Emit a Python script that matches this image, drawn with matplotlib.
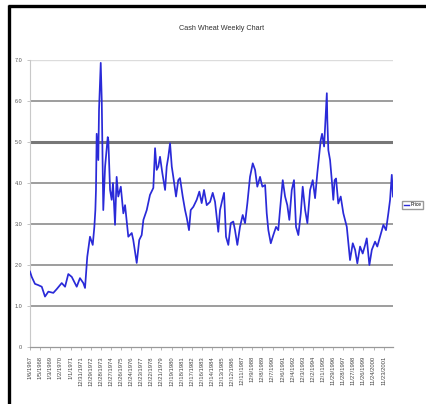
import datetime as dt
import matplotlib
matplotlib.use("Agg")
import matplotlib.pyplot as plt
from matplotlib.lines import Line2D

plt.rcParams['font.family'] = ['Liberation Sans', 'DejaVu Sans']

# weekly cash wheat price, sampled at the turning points (decimal year, $/bu)
years = [
    1967.00, 1967.17, 1967.49, 1967.81, 1968.16, 1968.48, 1968.81, 1969.30, 1969.63, 1970.13,
    1970.46, 1970.78, 1971.12, 1971.61, 1971.93, 1972.26, 1972.43, 1972.65, 1972.92, 1973.19,
    1973.35, 1973.45, 1973.51, 1973.58, 1973.74, 1973.81, 1973.98, 1974.08, 1974.16, 1974.23,
    1974.41, 1974.67, 1974.73, 1974.90, 1975.06, 1975.19, 1975.39, 1975.55, 1975.71, 1975.96,
    1976.21, 1976.38, 1976.70, 1977.04, 1977.19, 1977.53, 1977.78, 1978.02, 1978.19, 1978.52,
    1978.84, 1979.17, 1979.34, 1979.50, 1979.66, 1979.83, 1980.06, 1980.33, 1980.49, 1980.65,
    1980.82, 1980.99, 1981.14, 1981.41, 1981.63, 1981.80, 1982.07, 1982.30, 1982.47, 1982.69,
    1982.86, 1983.12, 1983.45, 1983.71, 1983.94, 1984.17, 1984.44, 1984.77, 1985.03, 1985.26,
    1985.42, 1985.58, 1985.75, 1985.98, 1986.15, 1986.34, 1986.57, 1986.81, 1987.06, 1987.23,
    1987.46, 1987.72, 1987.99, 1988.22, 1988.45, 1988.71, 1988.98, 1989.21, 1989.43, 1989.70,
    1989.93, 1990.20, 1990.36, 1990.52, 1990.76, 1991.01, 1991.28, 1991.50, 1991.67, 1991.94,
    1992.17, 1992.39, 1992.59, 1992.83, 1993.05, 1993.25, 1993.48, 1993.72, 1993.91, 1994.15,
    1994.37, 1994.64, 1994.90, 1995.13, 1995.35, 1995.55, 1995.69, 1995.82, 1996.02, 1996.16,
    1996.29, 1996.34, 1996.44, 1996.61, 1996.78, 1996.93, 1997.06, 1997.20, 1997.42, 1997.66,
    1997.92, 1998.26, 1998.42, 1998.58, 1998.85, 1999.08, 1999.30, 1999.57, 1999.83, 2000.07,
    2000.23, 2000.49, 2000.73, 2001.05, 2001.27, 2001.54, 2001.87, 2002.13, 2002.36, 2002.53,
    2002.70, 2002.82,
]
prices = [
    1.84, 1.71, 1.54, 1.51, 1.47, 1.23, 1.35, 1.32, 1.41, 1.56,
    1.47, 1.78, 1.71, 1.47, 1.68, 1.56, 1.44, 2.20, 2.69, 2.49,
    2.93, 3.34, 3.83, 5.20, 4.56, 5.78, 6.93, 6.02, 4.63, 3.34,
    4.40, 5.12, 5.05, 3.83, 3.59, 4.00, 2.98, 4.15, 3.67, 3.91,
    3.26, 3.46, 2.69, 2.78, 2.61, 2.05, 2.61, 2.73, 3.10, 3.34,
    3.71, 3.88, 4.85, 4.32, 4.40, 4.64, 4.24, 3.83, 4.40, 4.64,
    4.97, 4.40, 4.15, 3.67, 4.07, 4.12, 3.67, 3.34, 3.15, 2.85,
    3.34, 3.42, 3.59, 3.79, 3.51, 3.83, 3.46, 3.54, 3.76, 3.54,
    3.18, 2.81, 3.34, 3.59, 3.76, 2.69, 2.49, 3.02, 3.06, 2.85,
    2.49, 2.93, 3.22, 3.02, 3.51, 4.15, 4.48, 4.32, 3.91, 4.15,
    3.91, 3.95, 3.26, 2.85, 2.53, 2.73, 2.93, 2.85, 3.34, 4.07,
    3.67, 3.46, 3.10, 3.83, 4.07, 2.93, 2.73, 3.26, 3.91, 3.34,
    3.02, 3.83, 4.07, 3.63, 4.24, 4.72, 5.05, 5.20, 4.89, 5.54,
    6.19, 5.54, 4.80, 4.56, 4.07, 3.59, 4.07, 4.11, 3.50, 3.67,
    3.26, 2.93, 2.53, 2.12, 2.53, 2.37, 2.04, 2.45, 2.28, 2.49,
    2.65, 2.00, 2.37, 2.57, 2.45, 2.69, 2.98, 2.85, 3.26, 3.59,
    4.20, 3.67,
]

# category labels: one every 52 weeks from the first Friday of 1967
first_week = dt.date(1967, 1, 6)
n_labels = 36
label_dates = [first_week + dt.timedelta(weeks=52 * k) for k in range(n_labels)]
label_pos = [d.year + (d.timetuple().tm_yday - 1) / 365.25 for d in label_dates]
label_text = [f"{d.month}/{d.day}/{d.year}" for d in label_dates]

y_ticks = [0, 1, 2, 3, 4, 5, 6, 7]
line_color = '#2a2ad8'

fig = plt.figure(figsize=(4.27, 4.04), dpi=100)
fig.patch.set_facecolor('white')
ax = fig.add_axes([30 / 427, 1 - 347 / 404, 363 / 427, 287 / 404])

for v in y_ticks[1:]:
    if v == 7:
        ax.axhline(v, color='#dcdcdc', lw=1.0, zorder=1)
    elif v == 5:
        ax.axhline(v, color='#777777', lw=2.2, zorder=1)
    else:
        ax.axhline(v, color='#8c8c8c', lw=1.2, zorder=1)

ax.plot(years, prices, color=line_color, lw=1.25, zorder=3, label='Price')

ax.set_xlim(years[0], years[-1])
ax.set_ylim(0, 7)
ax.set_yticks(y_ticks)
ax.set_yticklabels(['0' if v == 0 else f"{v:.1f}" for v in y_ticks])
ax.set_xticks(label_pos)
ax.set_xticklabels(label_text, rotation=90, va='top', ha='center')

for s in ['top', 'right']:
    ax.spines[s].set_visible(False)
ax.spines['left'].set_color('#c8c8c8')
ax.spines['bottom'].set_color('#999999')
ax.spines['left'].set_linewidth(0.8)
ax.spines['bottom'].set_linewidth(0.9)
ax.tick_params(axis='y', length=2.5, width=0.6, color='#bbbbbb', labelsize=4,
               labelcolor='#555555', pad=3)
ax.tick_params(axis='x', length=2.5, width=0.6, color='#aaaaaa', labelsize=4.2,
               labelcolor='#444444', pad=4)

fig.text(222 / 427, 1 - 28 / 404, 'Cash Wheat Weekly Chart', fontsize=5.2,
         color='#333333', ha='center', va='center')

fig.legend(handles=[Line2D([], [], color=line_color, lw=1.0)], labels=['Price'],
           loc='center left', bbox_to_anchor=(402 / 427, 1 - 205 / 404),
           fontsize=3.4, handlelength=1.0, handletextpad=0.4, fancybox=False,
           edgecolor='#999999', borderpad=0.4, borderaxespad=0.0, framealpha=1)

# black frame along top and left edges
fig.add_artist(Line2D([8 / 427, 1.0], [1 - 6 / 404, 1 - 6 / 404], color='black',
                      lw=2.4, solid_capstyle='butt', transform=fig.transFigure))
fig.add_artist(Line2D([9.5 / 427, 9.5 / 427], [0.0, 1 - 5 / 404], color='black',
                      lw=2.4, solid_capstyle='butt', transform=fig.transFigure))

fig.savefig('out.png', dpi=100)
